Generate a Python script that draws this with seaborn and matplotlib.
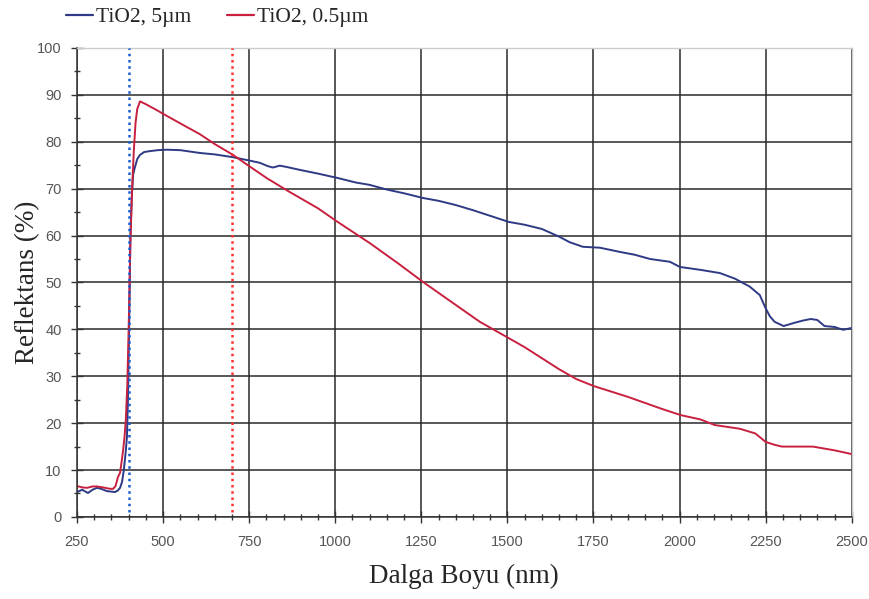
import numpy as np
import pandas as pd
import matplotlib
matplotlib.use("Agg")
import matplotlib.pyplot as plt
import seaborn as sns
from matplotlib.ticker import MultipleLocator

# Data (wavelength nm, reflectance %)
wl_5um = [250, 265, 282, 295, 308, 320, 337, 350, 360, 368, 375, 381, 386, 391, 395, 398, 401, 405,
          409, 413, 418, 425, 433, 445, 462, 485, 511, 550, 607, 650, 703, 750, 781, 804, 819, 839,
          860, 897, 950, 1005, 1060, 1100, 1150, 1200, 1255, 1300, 1350, 1400, 1450, 1504, 1550,
          1600, 1652, 1680, 1719, 1769, 1827, 1870, 1914, 1972, 2001, 2059, 2117, 2161, 2204,
          2233, 2248, 2262, 2276, 2302, 2334, 2360, 2381, 2400, 2421, 2450, 2475, 2500]
refl_5um = [5.3, 5.8, 5.1, 5.8, 6.2, 6.0, 5.5, 5.4, 5.3, 5.6, 6.2, 7.5, 10.0, 13.5, 17.0, 25.0, 38.0, 60.0,
            68.0, 73.0, 74.5, 76.3, 77.2, 77.8, 78.0, 78.2, 78.3, 78.2, 77.6, 77.3, 76.7, 76.0, 75.5, 74.8, 74.5, 74.9,
            74.6, 74.0, 73.2, 72.3, 71.3, 70.8, 69.8, 69.0, 68.0, 67.4, 66.5, 65.4, 64.2, 62.9, 62.3,
            61.4, 59.7, 58.6, 57.6, 57.4, 56.5, 55.9, 55.0, 54.4, 53.3, 52.7, 52.0, 50.8, 49.1,
            47.3, 44.8, 42.8, 41.6, 40.7, 41.4, 41.9, 42.2, 42.0, 40.7, 40.5, 39.9, 40.3]

wl_05um = [250, 265, 279, 295, 308, 325, 346, 355, 362, 369, 375, 380, 384, 388, 392, 396, 400, 405,
           410, 415, 420, 425, 433, 450, 480, 511, 560, 607, 650, 703, 750, 802, 865,
           950, 1005, 1100, 1180, 1255, 1350, 1420, 1478, 1550, 1650, 1700, 1751, 1850, 1950,
           2004, 2060, 2102, 2175, 2220, 2250, 2275, 2297, 2350, 2387, 2450, 2500]
refl_05um = [6.6, 6.3, 6.2, 6.5, 6.5, 6.3, 6.0, 6.0, 6.6, 8.5, 9.4, 12.0, 14.3, 17.0, 21.0, 28.0, 40.0, 58.0,
             70.0, 78.0, 84.0, 87.0, 88.6, 88.0, 86.8, 85.5, 83.5, 81.6, 79.5, 77.2, 74.8, 72.2, 69.4,
             65.8, 63.0, 58.4, 54.2, 50.1, 45.2, 41.6, 39.2, 36.2, 31.5, 29.4, 27.9, 25.6, 23.0,
             21.7, 20.8, 19.6, 18.8, 17.8, 16.0, 15.4, 15.0, 15.0, 15.0, 14.2, 13.4]

series_names = ["TiO2, 5µm", "TiO2, 0.5µm"]
series_colors = ["#2e3a85", "#c8203f"]
marker_lines = [400, 700]
marker_colors = ["#1a5fd0", "#ff3030"]

df = pd.concat([
    pd.DataFrame({"wl": wl_5um, "R": refl_5um, "s": series_names[0]}),
    pd.DataFrame({"wl": wl_05um, "R": refl_05um, "s": series_names[1]}),
])

sns.set_style("white")
plt.rcParams["font.family"] = ["Liberation Sans", "DejaVu Sans"]

fig = plt.figure(figsize=(8.7, 5.99), dpi=100)
ax = fig.add_axes([0.0885, 0.137, 0.8905, 0.783])

sns.lineplot(data=df, x="wl", y="R", hue="s", palette=series_colors,
             hue_order=series_names, linewidth=1.4, ax=ax, sort=False, legend=False)

for xv, c in zip(marker_lines, marker_colors):
    ax.plot([xv, xv], [1, 100], linestyle=(0, (1, 1.5)), color=c, linewidth=1.8, zorder=3)

ax.set_xlim(250, 2500)
ax.set_ylim(0, 100)
ax.xaxis.set_major_locator(MultipleLocator(250))
ax.xaxis.set_minor_locator(MultipleLocator(50))
ax.yaxis.set_major_locator(MultipleLocator(10))
ax.yaxis.set_minor_locator(MultipleLocator(5))
ax.grid(True, which="major", color="#2a2a2a", linewidth=1.1)
ax.set_axisbelow(True)

for side in ["top", "right"]:
    ax.spines[side].set_color("#c8cccc")
    ax.spines[side].set_linewidth(1.0)
for side in ["left", "bottom"]:
    ax.spines[side].set_color("#333333")
    ax.spines[side].set_linewidth(1.1)

ax.tick_params(axis="both", which="major", direction="inout", length=8, width=1.0,
               color="#333333", labelsize=10.5, labelcolor="#555555")
ax.tick_params(axis="x", which="major", pad=9)
ax.tick_params(axis="y", which="major", pad=7)
ax.tick_params(axis="both", which="minor", direction="inout", length=5, width=1.0, color="#333333")
ax.tick_params(axis="x", which="both", bottom=True)
ax.tick_params(axis="y", which="both", left=True)

ax.set_xlabel("Dalga Boyu (nm)", family=["Liberation Serif", "DejaVu Serif"], fontsize=19.5, labelpad=11)
ax.set_ylabel("Reflektans (%)", family=["Liberation Serif", "DejaVu Serif"], fontsize=19.5)
ax.yaxis.set_label_coords(-0.047, 0.5)

handles = [plt.Line2D([], [], color=c, linewidth=1.6) for c in series_colors]
fig.legend(handles, series_names, loc="upper left", bbox_to_anchor=(0.054, 1.02), ncol=2,
           frameon=False, prop={"family": ["Liberation Serif", "DejaVu Serif"], "size": 15.5},
           handlelength=1.25, handletextpad=0.15, columnspacing=1.65)

fig.savefig("out.png", dpi=100)
